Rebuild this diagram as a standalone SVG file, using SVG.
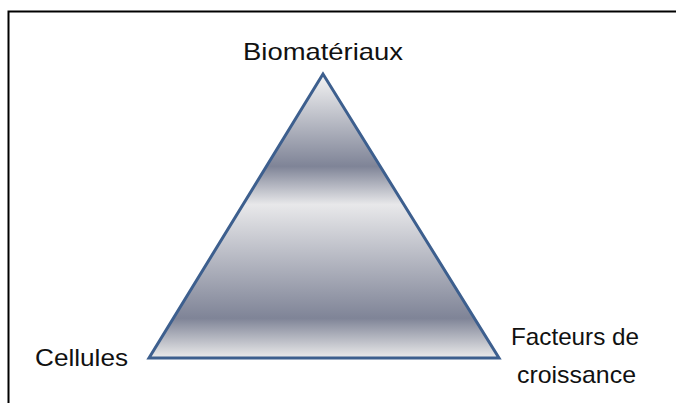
<svg xmlns="http://www.w3.org/2000/svg" width="676" height="403" viewBox="0 0 676 403">
<defs>
<linearGradient id="g" x1="0" y1="0" x2="0" y2="1">
<stop offset="0" stop-color="#f4f4f4"/>
<stop offset="0.325" stop-color="#7f8497"/>
<stop offset="0.46" stop-color="#e8e8ea"/>
<stop offset="0.86" stop-color="#7f8497"/>
<stop offset="1" stop-color="#ebebeb"/>
</linearGradient>
<style>
.t{font-family:"Liberation Sans",Arial,sans-serif;font-size:24px;fill:#111;}
</style>
</defs>
<rect width="676" height="403" fill="#fff"/>
<rect x="8.5" y="11.5" width="700" height="400" fill="none" stroke="#000" stroke-width="2"/>
<g id="triangle">
<polygon points="323,74 149,358 499,358" fill="url(#g)" stroke="#3d5f8e" stroke-width="3" stroke-linejoin="miter"/>
</g>
<g id="biomateriaux"><text class="t" x="243" y="60" textLength="160" lengthAdjust="spacingAndGlyphs">Biomatériaux</text></g>
<g id="cellules"><text class="t" x="35" y="366" textLength="93" lengthAdjust="spacingAndGlyphs">Cellules</text></g>
<g id="facteurs"><text class="t" x="511" y="345" textLength="128" lengthAdjust="spacingAndGlyphs">Facteurs de</text>
<text class="t" x="517" y="383" textLength="119" lengthAdjust="spacingAndGlyphs">croissance</text></g>
<g id="connectors"/>
</svg>
